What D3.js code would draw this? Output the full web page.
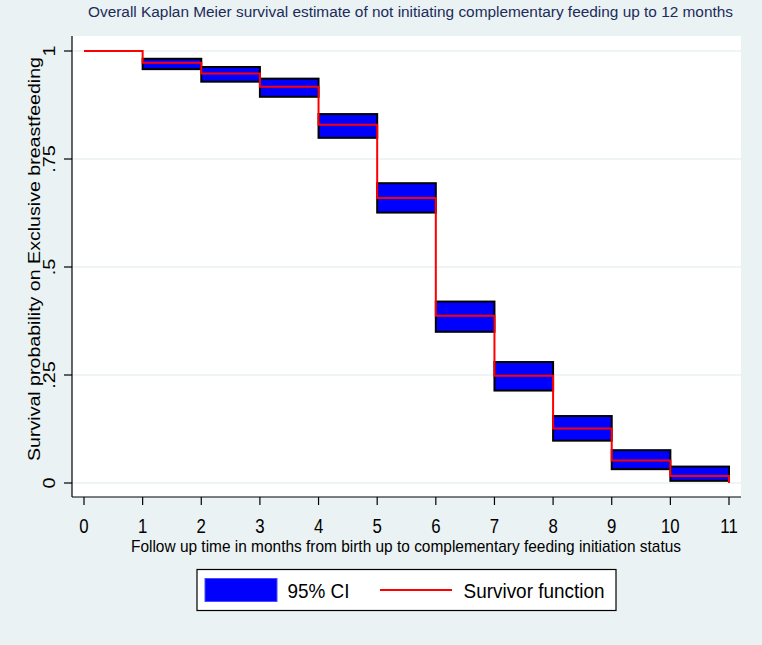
<!DOCTYPE html>
<html>
<head>
<meta charset="utf-8">
<script src="https://cdn.jsdelivr.net/npm/d3@7"></script>
<style>
  html, body { margin: 0; padding: 0; background: #eaf2f3; }
  svg { display: block; }
  text { font-family: "Liberation Sans", Arial, sans-serif; }
</style>
</head>
<body>
<svg id="chart" width="762" height="645"></svg>
<script>
// ---- data ----
const startTimes = [0, 1, 2, 3, 4, 5, 6, 7, 8, 9, 10];
const survival   = [1.000, 0.973, 0.948, 0.917, 0.829, 0.660, 0.387, 0.248, 0.126, 0.052, 0.016];
const ciLower    = [null, 0.958, 0.929, 0.894, 0.799, 0.626, 0.350, 0.214, 0.098, 0.032, 0.005];
const ciUpper    = [null, 0.982, 0.963, 0.936, 0.854, 0.694, 0.420, 0.280, 0.155, 0.076, 0.038];
const endTime = 11;
const endSurvival = 0;
const xTicks = [0, 1, 2, 3, 4, 5, 6, 7, 8, 9, 10, 11];
const yTicks = [0, 0.25, 0.5, 0.75, 1];
const yTickLabels = ["0", ".25", ".5", ".75", "1"];
const titleText = "Overall Kaplan Meier survival estimate of not initiating complementary feeding up to 12 months";
const xTitle = "Follow up time in months from birth up to complementary feeding initiation status";
const yTitle = "Survival probability on Exclusive  breastfeeding";
const legendLabels = ["95% CI", "Survivor function"];

// ---- layout ----
const svg = d3.select("#chart");
const W = 762, H = 645;
const plot = { left: 72, right: 741, top: 36, bottom: 497 };
const x = d3.scaleLinear().domain([0, 11]).range([84, 729]);
const y = d3.scaleLinear().domain([0, 1]).range([483, 51]);

svg.append("rect").attr("width", W).attr("height", H).attr("fill", "#eaf2f3");
svg.append("rect")
  .attr("x", plot.left).attr("y", plot.top)
  .attr("width", plot.right - plot.left).attr("height", plot.bottom - plot.top)
  .attr("fill", "#ffffff");

// grid
svg.append("g").selectAll("line").data(yTicks).join("line")
  .attr("x1", plot.left).attr("x2", plot.right)
  .attr("y1", d => y(d)).attr("y2", d => y(d))
  .attr("stroke", "#eaf2f3").attr("stroke-width", 1.5);

// CI boxes
const ciData = startTimes.map((t, i) => ({ t, lo: ciLower[i], hi: ciUpper[i] })).filter(d => d.lo !== null);
svg.append("g").selectAll("rect").data(ciData).join("rect")
  .attr("x", d => x(d.t))
  .attr("width", d => x(d.t + 1) - x(d.t))
  .attr("y", d => y(d.hi))
  .attr("height", d => y(d.lo) - y(d.hi))
  .attr("fill", "#0000ff")
  .attr("stroke", "#000000")
  .attr("stroke-width", 2);

// survivor step line
const pts = startTimes.map((t, i) => [t, survival[i]]);
pts.push([endTime, survival[survival.length - 1]]);
pts.push([endTime, endSurvival]);
const line = d3.line().x(d => x(d[0])).y(d => y(d[1])).curve(d3.curveStepAfter);
svg.append("path").datum(pts)
  .attr("d", line)
  .attr("fill", "none")
  .attr("stroke", "#ff0000")
  .attr("stroke-width", 2);

// axes
const yAxis = svg.append("g");
yAxis.append("line").attr("x1", plot.left).attr("x2", plot.left)
  .attr("y1", plot.top).attr("y2", plot.bottom).attr("stroke", "#000").attr("stroke-width", 1.2);
yAxis.selectAll("line.tick").data(yTicks).join("line").attr("class", "tick")
  .attr("x1", plot.left - 8).attr("x2", plot.left)
  .attr("y1", d => y(d)).attr("y2", d => y(d))
  .attr("stroke", "#000").attr("stroke-width", 1.2);
yAxis.selectAll("text").data(yTicks).join("text")
  .attr("transform", d => `translate(55,${y(d)}) rotate(-90) scale(1.17,1)`)
  .attr("text-anchor", "middle")
  .attr("font-size", 17)
  .attr("fill", "#000")
  .text((d, i) => yTickLabels[i]);

const xAxis = svg.append("g");
xAxis.append("line").attr("x1", plot.left).attr("x2", plot.right)
  .attr("y1", plot.bottom).attr("y2", plot.bottom).attr("stroke", "#000").attr("stroke-width", 1.2);
xAxis.selectAll("line.tick").data(xTicks).join("line").attr("class", "tick")
  .attr("x1", d => x(d)).attr("x2", d => x(d))
  .attr("y1", plot.bottom).attr("y2", plot.bottom + 8)
  .attr("stroke", "#000").attr("stroke-width", 1.2);
xAxis.selectAll("text").data(xTicks).join("text")
  .attr("transform", d => `translate(${x(d)},533) scale(0.8,1)`)
  .attr("text-anchor", "middle")
  .attr("font-size", 21)
  .attr("fill", "#000")
  .text(d => d);

// titles
function fitText(sel, len) {
  sel.attr("textLength", len).attr("lengthAdjust", "spacingAndGlyphs");
}
svg.append("text").attr("x", 410.5).attr("y", 17).attr("text-anchor", "middle")
  .attr("font-size", 15.5).attr("fill", "#1c2b5a").text(titleText).call(fitText, 645);
svg.append("text").attr("x", 406).attr("y", 552).attr("text-anchor", "middle")
  .attr("font-size", 17).attr("fill", "#000").text(xTitle).call(fitText, 550);
svg.append("text").attr("transform", "translate(40,259) rotate(-90)").attr("text-anchor", "middle")
  .attr("font-size", 16).attr("fill", "#000").text(yTitle).call(fitText, 404);

// legend
const lg = svg.append("g");
lg.append("rect").attr("x", 197).attr("y", 569.5).attr("width", 419).attr("height", 41)
  .attr("fill", "#fff").attr("stroke", "#000").attr("stroke-width", 1.2);
lg.append("rect").attr("x", 205).attr("y", 578.5).attr("width", 72).attr("height", 23)
  .attr("fill", "#0000ff").attr("stroke", "#4a4aff").attr("stroke-width", 1);
lg.append("text").attr("x", 287.5).attr("y", 597.5).attr("font-size", 21).attr("fill", "#000")
  .text(legendLabels[0]).call(fitText, 62);
lg.append("line").attr("x1", 380).attr("x2", 452).attr("y1", 590).attr("y2", 590)
  .attr("stroke", "#ff0000").attr("stroke-width", 2);
lg.append("text").attr("x", 463.5).attr("y", 597.5).attr("font-size", 21).attr("fill", "#000")
  .text(legendLabels[1]).call(fitText, 141);
</script>
</body>
</html>
